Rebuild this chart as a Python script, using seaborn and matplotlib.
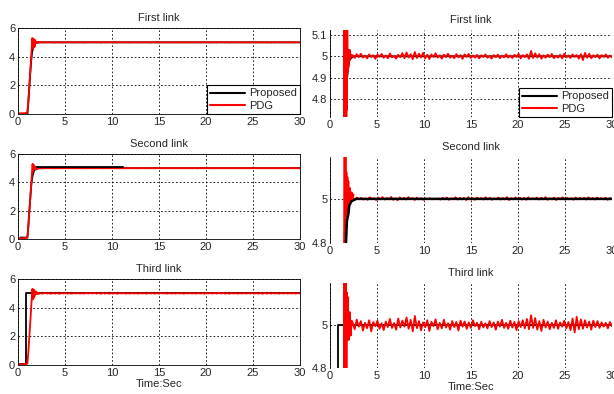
import numpy as np
import matplotlib
matplotlib.use("Agg")
import matplotlib.pyplot as plt
import seaborn as sns

# ---- data ----
link_titles = ["First link", "Second link", "Third link"]
x_ticks = [0, 5, 10, 15, 20, 25, 30]

# start-up transients (time, value) for each link
first_red_t = [0, 0.3, 0.6, 1.0, 1.1, 1.2, 1.3, 1.4, 1.5, 1.53, 1.56, 1.59, 1.62, 1.65, 1.68, 1.71,
               1.74, 1.77, 1.8, 1.84, 1.88, 1.92, 1.96, 2.0, 2.05, 2.1, 2.15, 2.2, 2.3]
first_red = [0.05, 0.05, 0.05, 0.1, 0.9, 1.9, 2.9, 3.9, 4.8, 5.3, 4.6, 5.25, 4.62, 5.22, 4.66, 5.2,
             4.7, 5.18, 4.75, 5.12, 4.93, 5.03, 4.95, 5.02, 4.98, 5.03, 4.99, 5.01, 5.0]
first_black_t = [0, 1.0, 1.1, 1.2, 1.3, 1.4, 1.5, 1.6, 1.65, 1.75, 1.85, 1.95, 2.05, 2.2, 2.5, 30]
first_black = [0.0, 0.0, 0.8, 1.8, 2.8, 3.7, 4.3, 4.6, 4.7, 4.88, 4.91, 4.95, 4.98, 4.99, 5.0, 5.0]

second_red_t = [0, 0.3, 0.6, 1.0, 1.1, 1.2, 1.3, 1.4, 1.5, 1.55, 1.6, 1.65, 1.7, 1.75, 1.8, 1.85,
                1.9, 1.95, 2.0, 2.1, 2.2, 2.3, 2.4, 2.5]
second_red = [0.05, 0.05, 0.05, 0.1, 0.9, 1.9, 2.9, 3.9, 4.8, 5.3, 4.75, 5.25, 4.92, 5.12, 4.93,
              5.1, 4.96, 5.08, 4.97, 5.05, 4.99, 5.03, 5.0, 5.02]
second_black_t = [0, 0.2, 0.25, 0.95, 1.0, 1.1, 1.2, 1.3, 1.4, 1.5, 1.6, 1.7, 1.8, 1.95, 2.05, 2.3, 2.8, 30]
second_black = [0.0, 0.0, 0.1, 0.1, 0.1, 0.9, 1.9, 2.8, 3.7, 4.3, 4.6, 4.8, 4.9, 4.93, 4.97, 4.99, 5.0, 5.0]
second_black_hold_t = [2.0, 11.2]
second_black_hold = [5.1, 5.1]

third_red_t = [0, 0.3, 0.6, 1.0, 1.1, 1.2, 1.3, 1.4, 1.5, 1.53, 1.56, 1.59, 1.62, 1.65, 1.68, 1.71,
               1.75, 1.8, 1.85, 1.9, 1.95, 2.0, 2.1, 2.2, 2.3]
third_red = [0.05, 0.05, 0.05, 0.1, 0.9, 1.9, 2.9, 3.9, 4.8, 5.3, 4.6, 5.28, 4.62, 5.25, 4.7, 5.22,
             4.78, 5.15, 4.95, 5.13, 4.97, 4.93, 5.06, 4.95, 5.02]
third_black_t = [0, 0.9, 0.9, 30]
third_black = [0.05, 0.05, 5.0, 5.0]

# steady-state ripple of the PDG response, thousandths around 5, from t=2.4 s to 30 s
first_red_ripple = [6, -8, 10, -4, 12, -6, 3, -10, 9, -3, 5, -12, 8, -2, 11, -7, 4, -9, 13, -5, 2, -11,
                    7, -4, 15, -9, 18, -6, 10, -14, 20, -8, 12, -5, 16, -10, 7, -13, 9, -3, 14, -6,
                    5, -11, 8, -4, 12, -7, 3, -9, 10, -5, 6, -12, 9, -2, 11, -8, 4, -6, 7, -10, 5,
                    -3, 9, -7, 2, -11, 6, -4, 8, -9, 3, -5, 10, -6, 4, -8, 7, -3, 12, -10, 6, -4, 9,
                    -12, 25, -8, 14, -6, 10, -11, 5, -7, 8, -4, 11, -9, 3, -6, 7, -10, 12, -5, 4,
                    -8, 9, -3, 6, -11, 10, -18, 16, -7, 12, -9, 5, -4, 8, -10, 6, -3, 9, -7, 4, -5]
second_red_ripple = [4, -2, 6, -1, 5, -3, 2, -4, 7, -1, 3, -5, 6, -2, 8, -3, 4, -2, 9, -4, 3, -6, 7,
                     -2, 5, -3, 8, -1, 4, -5, 6, -2, 3, -4, 2, -1, 3, -2, 1, -1, 2, -3, 5, -2, 6,
                     -4, 3, -1, 7, -3, 4, -2, 5, -5, 8, -2, 3, -4, 6, -1, 4, -3, 7, -2, 5, -4, 2, -1,
                     6, -3, 4, -2, 8, -5, 3, -2, 6, -1, 5, -3, 4, -4, 7, -2, 3, -1, 6, -3, 5, -2, 8,
                     -4, 3, -2, 6, -5, 4, -1, 7, -3, 5, -2, 3, -4, 6, -2, 4, -1, 5, -3, 7, -2, 4, -3,
                     6, -1, 3, -2, 5, -4, 4, -2]
third_red_ripple = [12, -20, 25, -8, 18, -26, 10, -15, 22, -30, 14, -6, 20, -18, 8, -24, 16, -10, 28,
                    -14, 9, -22, 30, -12, 20, -8, 35, -18, 24, -30, 42, -15, 18, -25, 12, -10, 22, -28,
                    15, -6, 26, -20, 10, -16, 24, -12, 8, -22, 18, -10, 14, -26, 20, -8, 16, -18, 12,
                    -14, 22, -6, 10, -20, 15, -12, 8, -16, 18, -10, 12, -22, 16, -8, 24, -14, 10, -18,
                    20, -12, 14, -24, 18, -10, 22, -16, 28, -20, 45, -14, 32, -22, 18, -28, 24, -12, 16,
                    -20, 10, -14, 22, -18, 12, -8, 20, -16, 14, -24, 30, -35, 38, -20, 26, -18, 22,
                    -12, 16, -22, 20, -10, 18, -14, 12, -8, 10, -16, 14, -6]

legend_labels = ["Proposed", "PDG"]
right_ylims = [(4.716, 5.123), (4.8, 5.19), (4.8, 5.195)]
right_yticks = [[4.8, 4.9, 5.0, 5.1], [4.8, 5.0], [4.8, 5.0]]
right_yticklabels = [["4.8", "4.9", "5", "5.1"], ["4.8", "5"], ["4.8", "5"]]


def with_ripple(t, y, ripple):
    rt = np.linspace(2.4, 30, len(ripple))
    return np.concatenate([t, rt]), np.concatenate([y, 5 + np.array(ripple) / 1000.0])


red = [with_ripple(first_red_t, first_red, first_red_ripple),
       with_ripple(second_red_t, second_red, second_red_ripple),
       with_ripple(third_red_t, third_red, third_red_ripple)]
black = [(first_black_t, first_black), (second_black_t, second_black), (third_black_t, third_black)]

sns.set_theme(style="white")
plt.rcParams['font.family'] = ['Liberation Sans', 'DejaVu Sans']
text_col = "#262626"

W, H = 614, 394
fig = plt.figure(figsize=(W / 100, H / 100), dpi=100)


def px_axes(x0, y0, x1, y1):
    return fig.add_axes([x0 / W, 1 - y1 / H, (x1 - x0) / W, (y1 - y0) / H])


left_rows = [(28, 114), (154, 239), (279, 365)]
right_rows = [(30, 117), (157, 243), (283, 368)]
grid_style = dict(color="black", linestyle=(0, (2, 2.5)), linewidth=0.6)

for i in range(3):
    for col in range(2):
        if col == 0:
            ax = px_axes(18, left_rows[i][0], 300, left_rows[i][1])
        else:
            ax = px_axes(330, right_rows[i][0], 612, right_rows[i][1])

        bt, by = black[i]
        rt, ry = red[i]
        sns.lineplot(x=bt, y=by, ax=ax, color="black", lw=1.3, estimator=None, sort=False,
                     label=legend_labels[0])
        # in the zoomed second-link view the proposed trace is drawn over the PDG one
        if col == 1 and i == 1:
            ax.lines[-1].set_zorder(3)
            ax.lines[-1].set_linewidth(1.8)
        if col == 0 and i == 1:
            sns.lineplot(x=second_black_hold_t, y=second_black_hold, ax=ax, color="black", lw=1.3,
                         estimator=None, sort=False)
            ax.lines[-1].set_zorder(3)
        sns.lineplot(x=rt, y=ry, ax=ax, color="#ff0000", lw=1.3, estimator=None, sort=False,
                     label=legend_labels[1])

        ax.set_xlim(0, 30)
        ax.set_xticks(x_ticks)
        if col == 0:
            ax.set_ylim(0, 6)
            ax.set_yticks([0, 2, 4, 6])
            for s in ax.spines.values():
                s.set_color("black")
                s.set_linewidth(0.6)
        else:
            ax.set_ylim(*right_ylims[i])
            ax.set_yticks(right_yticks[i])
            ax.set_yticklabels(right_yticklabels[i])
            for s in ["top", "right", "bottom"]:
                ax.spines[s].set_visible(False)
            ax.spines["left"].set_color("black")
            ax.spines["left"].set_linewidth(0.6)

        ax.grid(True, **grid_style)
        ax.tick_params(direction="in", length=3, width=0.6, labelsize=8, colors=text_col, pad=2)
        ax.set_title(link_titles[i], fontsize=8, color=text_col, pad=5)
        ax.set_xlabel("Time:Sec" if i == 2 else "", fontsize=8, color=text_col, labelpad=1)
        ax.set_ylabel("")

        if i == 0:
            leg = ax.legend(loc="lower right", fontsize=8, frameon=True, fancybox=False,
                            framealpha=1, edgecolor="black", borderpad=0.3, labelspacing=0.2,
                            handlelength=3.2, handletextpad=0.3, borderaxespad=0)
            leg.get_frame().set_linewidth(0.8)
            for line in leg.get_lines():
                line.set_linewidth(1.5)
        else:
            lg = ax.get_legend()
            if lg is not None:
                lg.remove()

fig.savefig("out.png", dpi=100)
